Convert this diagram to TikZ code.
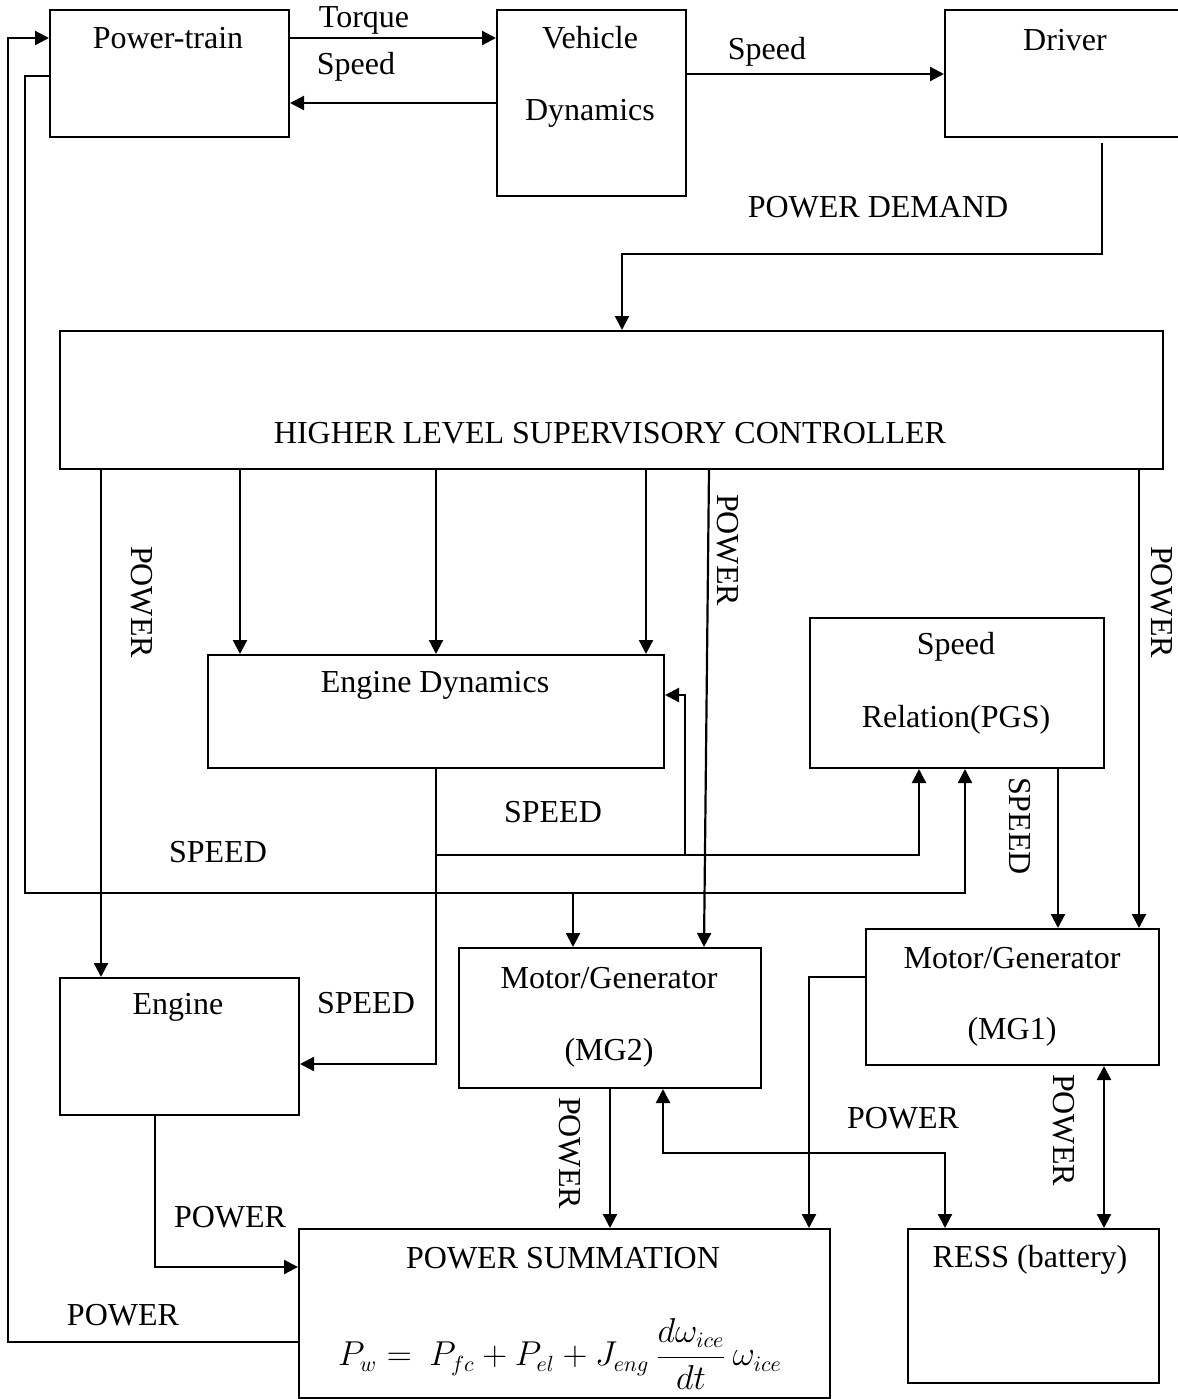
\documentclass[tikz,border=0pt]{standalone}
\usepackage{amsmath}
\usepackage{fontspec}
\setmainfont{Liberation Serif}
\usepackage{tikz}
\usetikzlibrary{arrows.meta,positioning}

\begin{document}
\begin{tikzpicture}[x=0.5pt, y=-0.5pt,
  font=\fontsize{16pt}{19pt}\selectfont,
  >={Triangle[length=7pt,width=7pt]},
  blk/.style={draw, line width=1pt, anchor=north west, inner sep=0pt},
  flow/.style={->, line width=1.1pt},
  flowtwo/.style={<->, line width=1.1pt},
  vlabel/.style={rotate=-90}]
\useasboundingbox (0,0) rectangle (1178,1399);
\clip (0,0) rectangle (1178,1399);

% blocks
\node (pt) [blk, minimum width=119.5pt, minimum height=63.5pt] at (49,9) {};
\node (vd) [blk, minimum width=94.5pt, minimum height=93pt] at (496,9) {};
\node (drv) [blk, minimum width=121pt, minimum height=63.5pt] at (944,9) {};
\node (hlsc) [blk, minimum width=551.5pt, minimum height=69pt] at (59,330) {};
\node (ed) [blk, minimum width=228pt, minimum height=56.5pt] at (207,654) {};
\node (sr) [blk, minimum width=147pt, minimum height=75pt] at (809,617) {};
\node (eng) [blk, minimum width=119.5pt, minimum height=68.5pt] at (59,977) {};
\node (mg2) [blk, minimum width=151pt, minimum height=70pt] at (458,947) {};
\node (mg1) [blk, minimum width=146.5pt, minimum height=68pt] at (865,928) {};
\node (ps) [blk, minimum width=265.5pt, minimum height=84.5pt] at (298,1228) {};
\node (ress) [blk, minimum width=125.5pt, minimum height=77pt] at (907,1228) {};

% texts in the blocks
\node (ptT) at (168,38) {Power-train};
\node (vdT) at (590,38) {Vehicle};
\node (vdTa) at (590,113) {Dynamics};
\node (drvT) at (1065,40) {Driver};
\node (hlscT) at (610,433) {HIGHER LEVEL SUPERVISORY CONTROLLER};
\node (edT) at (435,685) {Engine Dynamics};
\node (srT) at (956,647) {Speed};
\node (srTa) at (956,720) {Relation(PGS)};
\node (engT) at (178,1007) {Engine};
\node (mg2T) at (609,978) {Motor/Generator};
\node (mg2Ta) at (609,1053) {(MG2)};
\node (mg1T) at (1012,958) {Motor/Generator};
\node (mg1Ta) at (1012,1032) {(MG1)};
\node (psT) at (563,1258) {POWER SUMMATION};
\node (psTa) at (560,1354) {$P_w =\ P_{fc} + P_{el} + J_{eng}\,\dfrac{d\omega_{ice}}{dt}\,\omega_{ice}$};
\node (ressT) at (1030,1260) {RESS (battery)};

% signal labels
\node (torque) at (364,20) {Torque};
\node (speed1) at (356,67) {Speed};
\node (speed2) at (767,52) {Speed};
\node (demand) at (878,207) {POWER DEMAND};
\node (pw1) [vlabel] at (142,602) {POWER};
\node (pw2) [vlabel] at (728,550) {POWER};
\node (pw3) [vlabel] at (1162,602) {POWER};
\node (sp1) [vlabel] at (1020,826) {SPEED};
\node (sp2) at (218,852) {SPEED};
\node (sp3) at (553,812) {SPEED};
\node (sp4) at (366,1003) {SPEED};
\node (pw4) at (230,1217) {POWER};
\node (pw5) at (123,1315) {POWER};
\node (pw6) [vlabel] at (570,1153) {POWER};
\node (pw7) at (903,1118) {POWER};
\node (pw8) [vlabel] at (1064,1130) {POWER};

% top row
\draw[flow] (pt.east |- 0,38) -- (vd.west |- 0,38);
\draw[flow] (vd.west |- 0,103) -- (pt.east |- 0,103);
\draw[flow] (vd.east |- 0,74) -- (drv.west |- 0,74);
\draw[flow, shorten <=2.5pt] (drv.south -| 1102,0) -- (1102,254) -- (622,254) -- (hlsc.north -| 622,0);

% from the controller
\draw[flow] (hlsc.south -| 101,0) -- (eng.north -| 101,0);
\foreach \x in {240,436,646}
  \draw[flow] (hlsc.south -| \x,0) -- (ed.north -| \x,0);
\draw[flow] (hlsc.south -| 709,0) -- (mg2.north -| 704,0);
\draw[flow] (hlsc.south -| 1139,0) -- (mg1.north -| 1139,0);
\draw[flow] (sr.south -| 1058,0) -- (mg1.north -| 1058,0);

% speed feedback
\draw[flow] (ed.south) -- (ed.south |- 0,1064) -- (eng.east |- 0,1064);
\draw[flow] (ed.south |- 0,855) -- (919,855) -- (sr.south -| 919,0);
\draw[flow] (685,855) -- (685,695) -- (ed.east |- 0,695);
\draw[flow] (pt.west |- 0,76) -- (25,76) -- (25,893) -- (965,893) -- (sr.south -| 965,0);
\draw[flow] (573,893) -- (mg2.north -| 573,0);

% power flows
\draw[flow] (ps.west |- 0,1342) -- (8,1342) -- (8,38) -- (pt.west |- 0,38);
\draw[flow] (eng.south -| 155,0) -- (155,1267) -- (ps.west |- 0,1267);
\draw[flow] (mg2.south) -- (ps.north -| mg2.south);
\draw[flow] (mg1.west |- 0,977) -- (809,977) -- (ps.north -| 809,0);
\draw[flowtwo] (mg2.south -| 663,0) -- (663,1153) -- (945,1153) -- (ress.north -| 945,0);
\draw[flowtwo] (mg1.south -| 1104,0) -- (ress.north -| 1104,0);
\end{tikzpicture}
\end{document}
